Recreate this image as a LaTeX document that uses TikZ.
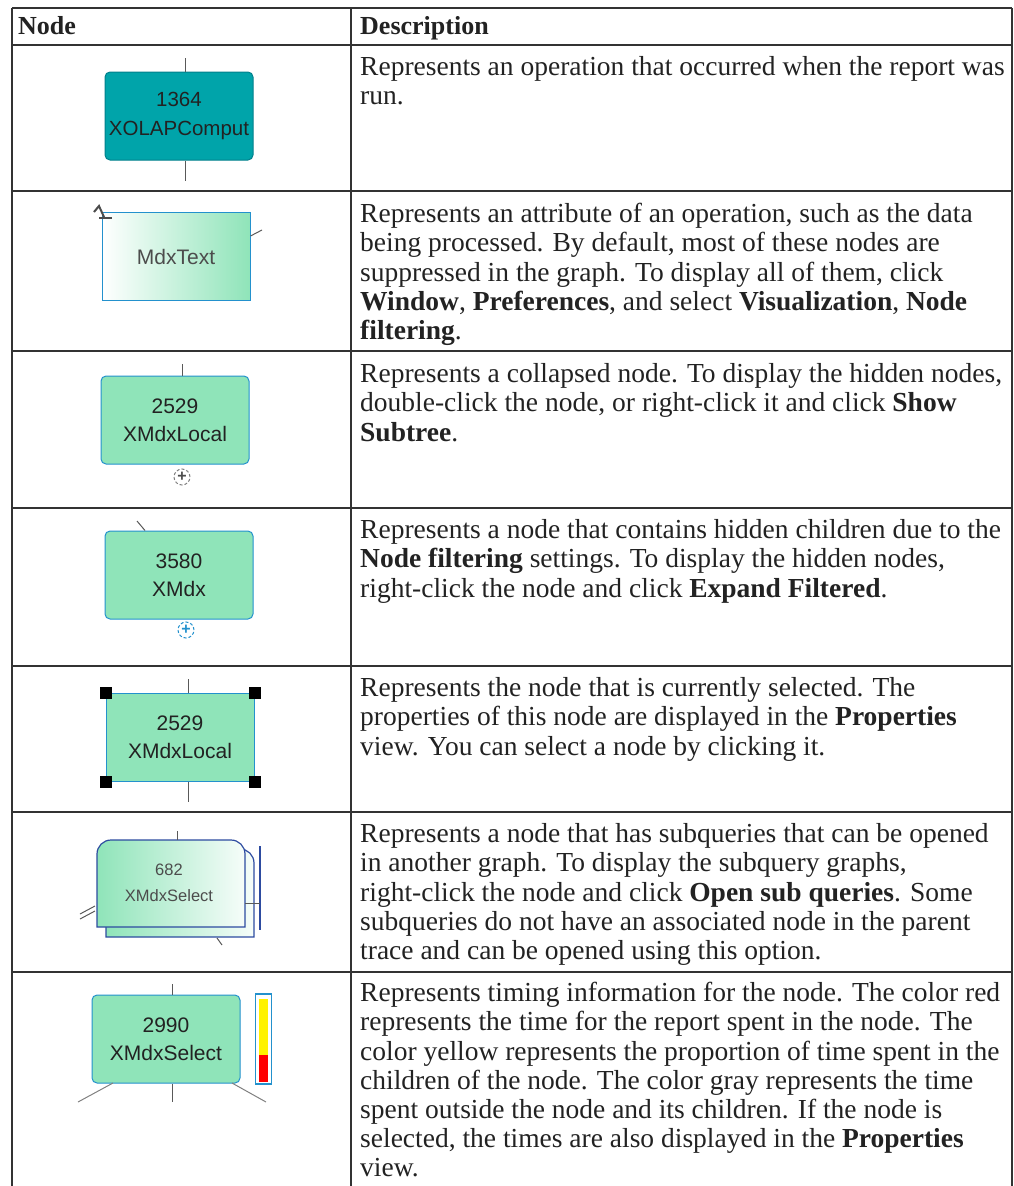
\documentclass[tikz,border=0pt]{standalone}
\usepackage{fontspec}
\setmainfont{Liberation Serif}
\setsansfont{Liberation Sans}
\usetikzlibrary{positioning}

\definecolor{opteal}{RGB}{0,164,170}
\definecolor{optealdark}{RGB}{0,128,140}
\definecolor{mint}{RGB}{143,228,185}
\definecolor{nodeblue}{RGB}{35,145,205}
\definecolor{stackblue}{RGB}{45,75,160}
\definecolor{inkgray}{RGB}{34,34,34}

\tikzset{
	rule/.style={draw=black!80, line width=1.5pt},
	head/.style={anchor=base west, inner sep=0pt, font=\bfseries\fontsize{26}{30}\selectfont, text=inkgray},
	descr/.style={anchor=north west, inner sep=0pt, align=left, font=\fontsize{27.5}{29.2}\selectfont, text=inkgray},
	opnode/.style={draw=optealdark, line width=1pt, fill=opteal, rounded corners=5pt, minimum width=148pt, minimum height=88pt, inner sep=0pt, align=center, font=\sffamily\fontsize{20.5}{29}\selectfont, text=inkgray},
	mintnode/.style={opnode, draw=nodeblue, fill=mint, font=\sffamily\fontsize{21}{28}\selectfont},
	attrnode/.style={mintnode, sharp corners, left color=white, right color=mint, text=black!70},
	selnode/.style={mintnode, sharp corners},
	stacktext/.style={inner sep=0pt, align=center, font=\sffamily\fontsize{16.5}{26}\selectfont, text=black!70},
	stackface/.style={draw=stackblue, line width=1.2pt, left color=mint, right color=white!92!mint},
	handle/.style={fill=black, minimum size=12pt, inner sep=0pt},
	plusmark/.style={circle, draw=black!50, densely dashed, line width=1pt, inner sep=0pt, minimum size=16pt, font=\sffamily\bfseries\fontsize{16}{16}\selectfont, text=black!70},
	stub/.style={draw=black!65, line width=1pt},
}

\begin{document}
\begin{tikzpicture}[x=1pt, y=-1pt]
	\useasboundingbox (0,0) rectangle (1013,1186);
	% table rules
	\draw [rule] (12,8) -- (1012,8);
	\draw [rule] (12,45) -- (1012,45);
	\draw [rule] (12,191) -- (1012,191);
	\draw [rule] (12,351) -- (1012,351);
	\draw [rule] (12,508) -- (1012,508);
	\draw [rule] (12,666) -- (1012,666);
	\draw [rule] (12,812) -- (1012,812);
	\draw [rule] (12,972) -- (1012,972);
	\draw [rule] (12,8) -- (12,1186);
	\draw [rule] (351,8) -- (351,1186);
	\draw [rule] (1012,8) -- (1012,1186);

	% header
	\node [head] (hnode) at (18,34) {Node};
	\node [head] (hdesc) at (360,34) {Description};

	% row 1: operation
	\node [opnode] (op) at (179,116) {1364\\XOLAPComput};
	\coordinate (optop) at (185,58);
	\coordinate (opbot) at (185,181);
	\draw [stub] (optop) -- (optop |- op.north);
	\draw [stub] (op.south -| opbot) -- (opbot);
	\node [descr] (dop) at (360,55) {\strut Represents an operation that occurred when the report was\\run.};

	% row 2: attribute
	\node [attrnode] (attr) at (176,256.5) {MdxText};
	\coordinate (attrcur) at (94,212);
	\coordinate (attrout) at (262,230);
	\draw [stub, black!70, line width=2pt] (attrcur) -- ++(5,-6) -- ++(5,11);
	\draw [stub, black!70, line width=2pt] ([xshift=5pt,yshift=-6pt]attrcur) -- ++(13,0);
	\draw [stub] (attr.east |- 0,236) -- (attrout);
	\node [descr] (dattr) at (360,202) {\strut Represents an attribute of an operation, such as the data\\being processed. By default, most of these nodes are\\suppressed in the graph. To display all of them, click\\\textbf{Window}, \textbf{Preferences}, and select \textbf{Visualization}, \textbf{Node}\\\textbf{filtering}.};

	% row 3: collapsed
	\node [mintnode] (coll) at (175,420) {2529\\XMdxLocal};
	\coordinate (colltop) at (182,364);
	\draw [stub] (colltop) -- (colltop |- coll.north);
	\node [plusmark] (collexp) at (182,477) {+};
	\node [descr] (dcoll) at (360,362) {\strut Represents a collapsed node. To display the hidden nodes,\\double-click the node, or right-click it and click \textbf{Show}\\\textbf{Subtree}.};

	% row 4: filtered children
	\node [mintnode] (filt) at (179,575) {3580\\XMdx};
	\coordinate (filtin) at (137,521);
	\draw [stub] (filtin) -- ([xshift=-34pt]filt.north);
	\node [plusmark, draw=nodeblue, text=nodeblue] (filtexp) at (186,630) {+};
	\node [descr] (dfilt) at (360,518) {\strut Represents a node that contains hidden children due to the\\\textbf{Node filtering} settings. To display the hidden nodes,\\right-click the node and click \textbf{Expand Filtered}.};

	% row 5: selected
	\node [selnode] (sel) at (180,737) {2529\\XMdxLocal};
	\coordinate (seltop) at (188,679);
	\coordinate (selbot) at (188,802);
	\draw [stub] (seltop) -- (seltop |- sel.north);
	\draw [stub] (sel.south -| selbot) -- (selbot);
	\node [handle] (hnw) at (sel.north west) {};
	\node [handle] (hne) at (sel.north east) {};
	\node [handle] (hsw) at (sel.south west) {};
	\node [handle] (hse) at (sel.south east) {};
	\node [descr] (dsel) at (360,676) {\strut Represents the node that is currently selected. The\\properties of this node are displayed in the \textbf{Properties}\\view. You can select a node by clicking it.};

	% row 6: subqueries
	\draw [stackblue, line width=1.2pt] (260,846) -- (260,930);
	\draw [stackface] (106,937) -- (106,863) arc (180:270:14) -- (240,849) arc (270:360:14) -- (254,937) -- cycle;
	\draw [stackface] (97,927) -- (97,854) arc (180:270:14) -- (231,840) arc (270:360:14) -- (245,927) -- cycle;
	\node [stacktext] (sub) at (169,883) {682\\XMdxSelect};
	\coordinate (subtop) at (177,831);
	\coordinate (subin) at (80,914);
	\coordinate (subout) at (222,945);
	\draw [stub] (subtop) -- (177,840);
	\draw [stub] (subin) -- ++(15,-8);
	\draw [stub] ([yshift=-5pt]subin) -- ++(15,-8);
	\draw [stub] (245,903) -- (260,903);
	\draw [stub] (217,938) -- (subout);
	\node [descr] (dsub) at (360,822) {\strut Represents a node that has subqueries that can be opened\\in another graph. To display the subquery graphs,\\right-click the node and click \textbf{Open sub queries}. Some\\subqueries do not have an associated node in the parent\\trace and can be opened using this option.};

	% row 7: timing
	\node [mintnode] (timed) at (166,1039) {2990\\XMdxSelect};
	\node [draw=nodeblue, line width=1.2pt, fill=white, minimum width=16pt, minimum height=90pt, inner sep=0pt, right=14pt of timed] (bar) {};
	\fill [yellow] ([xshift=4pt,yshift=-6pt]bar.north west) rectangle ([xshift=-4pt,yshift=30pt]bar.south east);
	\fill [red] ([xshift=4pt,yshift=30pt]bar.south west) rectangle ([xshift=-4pt,yshift=3pt]bar.south east);
	\coordinate (timedtop) at (172,984);
	\coordinate (timedbot) at (172,1102);
	\coordinate (timedleft) at (78,1102);
	\coordinate (timedright) at (266,1102);
	\draw [stub] (timedtop) -- (timedtop |- timed.north);
	\draw [stub] (timed.south -| timedbot) -- (timedbot);
	\draw [stub, black!50] (113,1083) -- (timedleft);
	\draw [stub, black!50] (232,1083) -- (timedright);
	\node [descr] (dtimed) at (360,981) {\strut Represents timing information for the node. The color red\\represents the time for the report spent in the node. The\\color yellow represents the proportion of time spent in the\\children of the node. The color gray represents the time\\spent outside the node and its children. If the node is\\selected, the times are also displayed in the \textbf{Properties}\\view.};
\end{tikzpicture}
\end{document}
